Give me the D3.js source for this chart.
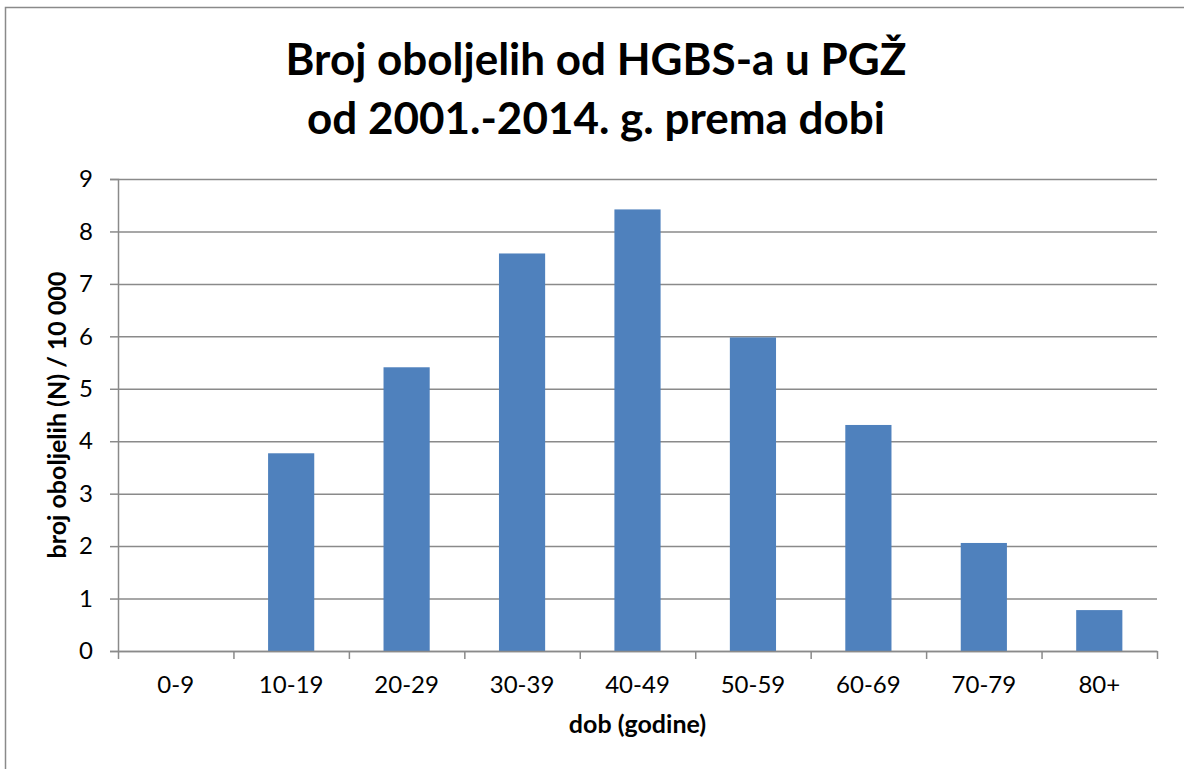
<!DOCTYPE html>
<html>
<head>
<meta charset="utf-8">
<script src="https://cdn.jsdelivr.net/npm/d3@7"></script>
<style>
	body { margin: 0; background: #fff; }
	svg { display: block; }
	text { font-family: Lato, "Open Sans", sans-serif; fill: #000; }
</style>
</head>
<body>
<svg id="chart"></svg>
<script>
const CATEGORIES = ['0-9', '10-19', '20-29', '30-39', '40-49', '50-59', '60-69', '70-79', '80+'];
const VALUES = [0, 3.77, 5.41, 7.58, 8.42, 5.98, 4.31, 2.06, 0.78];
const Y_TICKS = [0, 1, 2, 3, 4, 5, 6, 7, 8, 9];
const TITLE_LINES = ['Broj oboljelih od HGBS-a u PGŽ', 'od 2001.-2014. g. prema dobi'];
const X_LABEL = 'dob (godine)';
const Y_LABEL = 'broj oboljelih (N) / 10 000';

const SVG_WIDTH = 1184;
const SVG_HEIGHT = 769;

const MARGIN = {
	top: 179,
	right: 27,
	bottom: 118,
	left: 118
};
const WIDTH = SVG_WIDTH - MARGIN.left - MARGIN.right;
const HEIGHT = SVG_HEIGHT - MARGIN.top - MARGIN.bottom;

const BAR_COLOR = '#4f81bd';
const GRID_COLOR = '#8a8a8a';

const svg = d3.select('#chart')
	.attr('width', SVG_WIDTH)
	.attr('height', SVG_HEIGHT);

// chart frame
svg.append('rect')
	.attr('x', 5.5)
	.attr('y', 7.5)
	.attr('width', SVG_WIDTH + 10)
	.attr('height', SVG_HEIGHT + 10)
	.attr('fill', 'none')
	.attr('stroke', GRID_COLOR)
	.attr('stroke-width', 1.5);

// title
svg.append('text')
	.attr('text-anchor', 'middle')
	.style('font-size', '44px')
	.style('font-weight', 'bold')
	.selectAll('tspan')
	.data(TITLE_LINES)
	.enter()
	.append('tspan')
		.attr('x', 596)
		.attr('y', (d, i) => 75 + i * 59)
		.text(d => d);

const g = svg.append('g')
	.attr('transform', 'translate(' + MARGIN.left + ', ' + MARGIN.top + ')');

const x = d3.scaleBand()
	.domain(CATEGORIES)
	.range([0, WIDTH])
	.paddingInner(0.6)
	.paddingOuter(0.3);

const xEdges = d3.scaleLinear()
	.domain([0, CATEGORIES.length])
	.range([0, WIDTH]);

const y = d3.scaleLinear()
	.domain([0, 9])
	.range([HEIGHT, 0]);

// gridlines
g.append('g')
	.attr('class', 'grid')
	.call(d3.axisLeft(y).tickValues(Y_TICKS).tickSize(-WIDTH).tickFormat(''))
	.call(s => s.select('.domain').remove())
	.call(s => s.selectAll('line').attr('stroke', GRID_COLOR).attr('stroke-width', 1.5));

// bars
g.selectAll('.bar')
	.data(VALUES)
	.enter()
	.append('rect')
		.attr('class', 'bar')
		.attr('x', (d, i) => x(CATEGORIES[i]))
		.attr('y', d => y(d))
		.attr('width', x.bandwidth())
		.attr('height', d => HEIGHT - y(d))
		.attr('fill', BAR_COLOR);

// Y-Axis
g.append('g')
	.attr('class', 'axis')
	.call(d3.axisLeft(y).tickValues(Y_TICKS).tickSize(8).tickPadding(17).tickFormat(d3.format('d')))
	.call(s => s.select('.domain').attr('stroke', GRID_COLOR).attr('stroke-width', 1.5))
	.call(s => s.selectAll('line').attr('stroke', GRID_COLOR).attr('stroke-width', 1.5))
	.call(s => s.selectAll('text').style('font-size', '24px').style('font-family', 'Lato, sans-serif').attr('fill', '#000'));

// X-Axis: domain line with ticks at category boundaries
g.append('g')
	.attr('class', 'axis')
	.attr('transform', 'translate(0, ' + HEIGHT + ')')
	.call(d3.axisBottom(xEdges).tickValues(d3.range(CATEGORIES.length + 1)).tickSizeInner(8).tickSizeOuter(0).tickFormat(''))
	.call(s => s.select('.domain').attr('stroke', GRID_COLOR).attr('stroke-width', 1.5))
	.call(s => s.selectAll('line').attr('stroke', GRID_COLOR).attr('stroke-width', 1.5));

// X tick labels
g.append('g')
	.attr('transform', 'translate(0, ' + HEIGHT + ')')
	.call(d3.axisBottom(x).tickSize(0).tickPadding(25))
	.call(s => s.select('.domain').remove())
	.call(s => s.selectAll('text').style('font-size', '24px').style('font-family', 'Lato, sans-serif').attr('fill', '#000'));

// axis titles
svg.append('text')
	.attr('text-anchor', 'middle')
	.attr('x', MARGIN.left + WIDTH / 2)
	.attr('y', 733)
	.style('font-size', '25px')
	.style('font-weight', 'bold')
	.text(X_LABEL);

svg.append('text')
	.attr('text-anchor', 'middle')
	.attr('transform', 'translate(66, ' + (MARGIN.top + HEIGHT / 2) + ') rotate(-90)')
	.style('font-size', '25px')
	.style('font-weight', 'bold')
	.text(Y_LABEL);
</script>
</body>
</html>
